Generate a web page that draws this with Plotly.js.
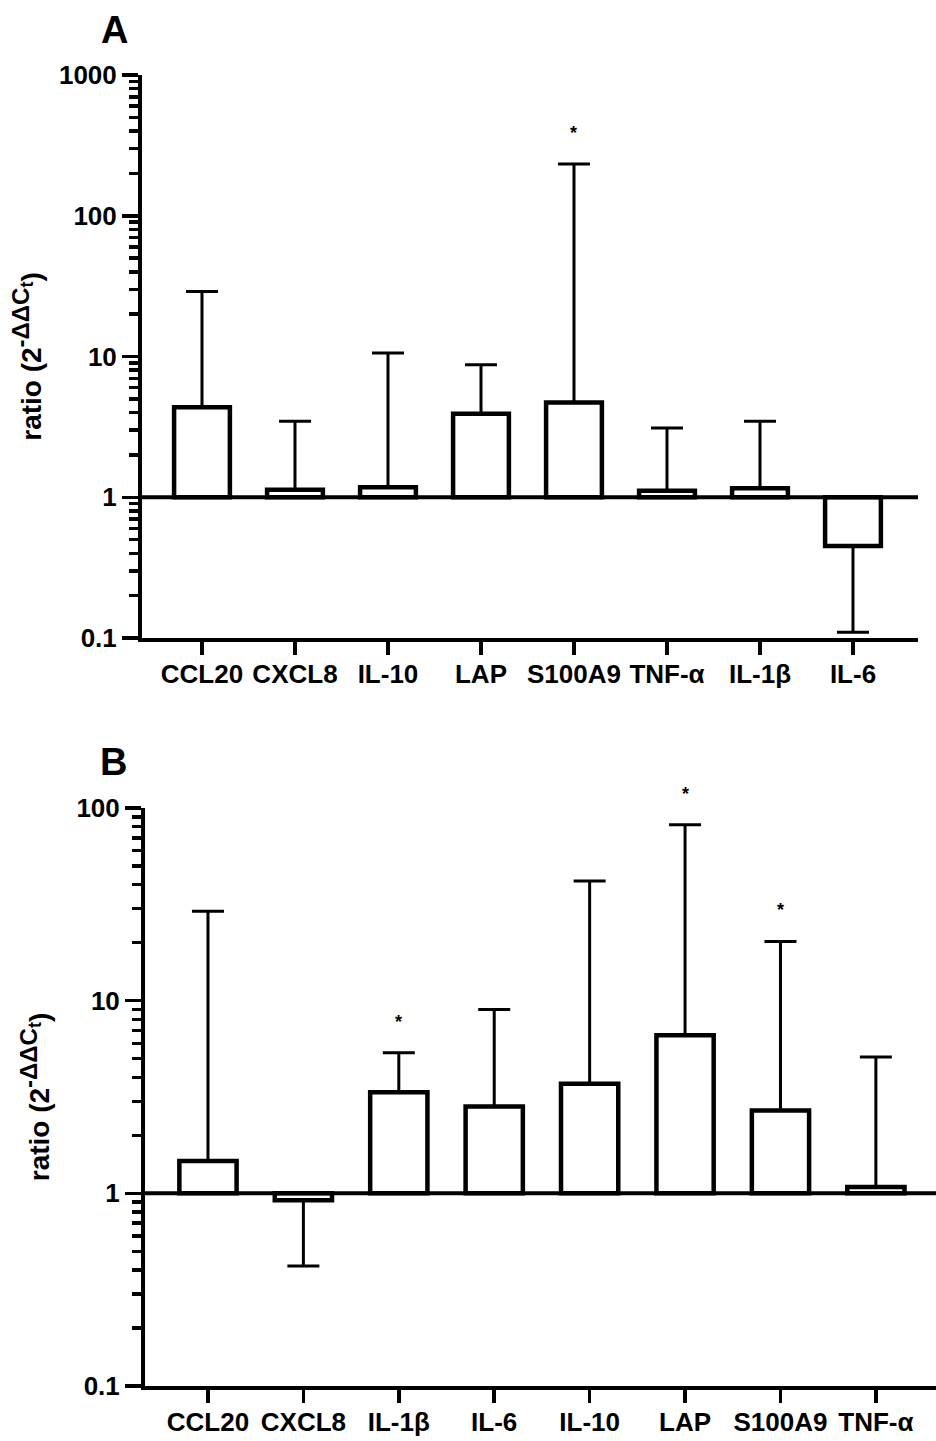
<!DOCTYPE html>
<html>
<head>
<meta charset="utf-8">
<script src="https://cdn.plot.ly/plotly-3.0.1.min.js"></script>
<style>
  html, body { margin: 0; padding: 0; background: #ffffff; }
  #chart { width: 936px; height: 1441px; }
</style>
</head>
<body>
<div id="chart"></div>
<script>
// ---------- Panel A data ----------
const catsA  = ['CCL20', 'CXCL8', 'IL-10', 'LAP', 'S100A9', 'TNF-α', 'IL-1β', 'IL-6'];
const meanA  = [4.36, 1.13, 1.18, 3.92, 4.72, 1.11, 1.16, 0.45];
const errEndA = [29.0, 3.47, 10.6, 8.75, 233, 3.11, 3.47, 0.11];
const sigA   = ['', '', '', '', '*', '', '', ''];

// ---------- Panel B data ----------
const catsB  = ['CCL20', 'CXCL8', 'IL-1β', 'IL-6', 'IL-10', 'LAP', 'S100A9', 'TNF-α'];
const meanB  = [1.47, 0.92, 3.35, 2.82, 3.70, 6.62, 2.69, 1.08];
const errEndB = [29.1, 0.42, 5.37, 9.01, 41.8, 81.8, 20.3, 5.10];
const sigB   = ['', '', '*', '', '', '*', '*', ''];

const yTickVals = [0.1, 1, 10, 100, 1000];
const yTickTextA = ['0.1', '1', '10', '100', '1000'];
const yTickTextB = ['0.1', '1', '10', '100'];

const FONT = 'Liberation Sans, Arial, sans-serif';
const W = 936, H = 1441;

function barTrace(cats, means, xa, ya, widthFrac) {
  return {
    type: 'bar',
    x: cats,
    y: means.map(v => v - 1),
    base: means.map(() => 1),
    width: widthFrac,
    marker: { color: '#ffffff', line: { color: '#000000', width: 4.5 } },
    xaxis: xa, yaxis: ya,
    hoverinfo: 'skip',
    showlegend: false
  };
}
function errTrace(cats, means, ends, xa, ya) {
  return {
    type: 'scatter',
    mode: 'markers',
    x: cats,
    y: means,
    marker: { size: 1, color: 'rgba(0,0,0,0)' },
    error_y: {
      type: 'data',
      symmetric: false,
      array: means.map((v, i) => ends[i] > v ? ends[i] - v : 0),
      arrayminus: means.map((v, i) => ends[i] < v ? v - ends[i] : 0),
      color: '#000000',
      thickness: 3,
      width: 16
    },
    xaxis: xa, yaxis: ya,
    hoverinfo: 'skip',
    showlegend: false
  };
}

const data = [
  barTrace(catsA, meanA, 'x', 'y', 0.6),
  errTrace(catsA, meanA, errEndA, 'x', 'y'),
  barTrace(catsB, meanB, 'x2', 'y2', 0.6),
  errTrace(catsB, meanB, errEndB, 'x2', 'y2')
];

const tickFont = { family: FONT, size: 26, color: '#000000', weight: 700 };
const titleFont = { family: FONT, size: 28, color: '#000000', weight: 700 };
const yTitle = 'ratio (2<sup><span style="font-size:24px">-ΔΔC</span><sub><span style="font-size:18px">t</span></sub></sup>)';

function xAxis(domain, range, anchor) {
  return {
    domain: domain, range: range, anchor: anchor, type: 'category',
    showline: true, linecolor: '#000000', linewidth: 4,
    ticks: 'outside', ticklen: 13, tickwidth: 3.5, tickcolor: '#000000',
    ticklabelstandoff: -3,
    tickfont: tickFont, showgrid: false, zeroline: false, fixedrange: true
  };
}
function yAxis(domain, range, anchor, tickText, standoff) {
  return {
    domain: domain, range: range, anchor: anchor, type: 'log',
    showline: true, linecolor: '#000000', linewidth: 4,
    tickmode: 'array', tickvals: yTickVals.slice(0, tickText.length), ticktext: tickText,
    ticks: 'outside', ticklen: 16, tickwidth: 3.5, tickcolor: '#000000',
    minor: { ticks: 'outside', ticklen: 9, tickwidth: 3.5, tickcolor: '#000000',
             tickmode: 'array',
             tickvals: (function () {
               const out = [];
               for (let d = range[0]; d < range[1]; d++) {
                 for (let k = 2; k <= 9; k++) out.push(k * Math.pow(10, d));
               }
               return out;
             })(), showgrid: false },
    ticklabelstandoff: 0,
    tickfont: tickFont, showgrid: false, zeroline: false, fixedrange: true,
    title: { text: yTitle, font: titleFont, standoff: standoff }
  };
}

const annotations = [
  { text: 'A', xref: 'paper', yref: 'paper', x: 114 / W, y: 1 - 30 / H, xanchor: 'center', yanchor: 'middle',
    showarrow: false, font: { family: FONT, size: 38, color: '#000000', weight: 700 } },
  { text: 'B', xref: 'paper', yref: 'paper', x: 113 / W, y: 1 - 762 / H, xanchor: 'center', yanchor: 'middle',
    showarrow: false, font: { family: FONT, size: 38, color: '#000000', weight: 700 } }
];
function addStars(cats, ends, sig, xr, yr) {
  cats.forEach((c, i) => {
    if (sig[i]) {
      annotations.push({ text: sig[i], x: c, y: Math.log10(ends[i]), xref: xr, yref: yr,
        yshift: 31, showarrow: false, xanchor: 'center', yanchor: 'middle',
        font: { family: FONT, size: 18, color: '#000000', weight: 700 } });
    }
  });
}
addStars(catsA, errEndA, sigA, 'x', 'y');
addStars(catsB, errEndB, sigB, 'x2', 'y2');

const layout = {
  width: W, height: H,
  margin: { l: 0, r: 0, t: 0, b: 0 },
  paper_bgcolor: '#ffffff', plot_bgcolor: '#ffffff',
  showlegend: false,
  bargap: 0,
  xaxis:  xAxis([142 / W, 918 / W], [-0.645, 7.699], 'y'),
  yaxis:  yAxis([1 - 638 / H, 1 - 75 / H], [-1, 3], 'x', yTickTextA, 10),
  xaxis2: xAxis([145 / W, 1], [-0.66, 7.63], 'y2'),
  yaxis2: yAxis([1 - 1386 / H, 1 - 808 / H], [-1, 2], 'x2', yTickTextB, 20),
  shapes: [
    { type: 'line', xref: 'x domain', yref: 'y', x0: 0, x1: 1, y0: 1, y1: 1,
      line: { color: '#000000', width: 4 } },
    { type: 'line', xref: 'x2 domain', yref: 'y2', x0: 0, x1: 1, y0: 1, y1: 1,
      line: { color: '#000000', width: 4 } }
  ],
  annotations: annotations
};

Plotly.newPlot('chart', data, layout, { displayModeBar: false, staticPlot: true });
</script>
</body>
</html>
